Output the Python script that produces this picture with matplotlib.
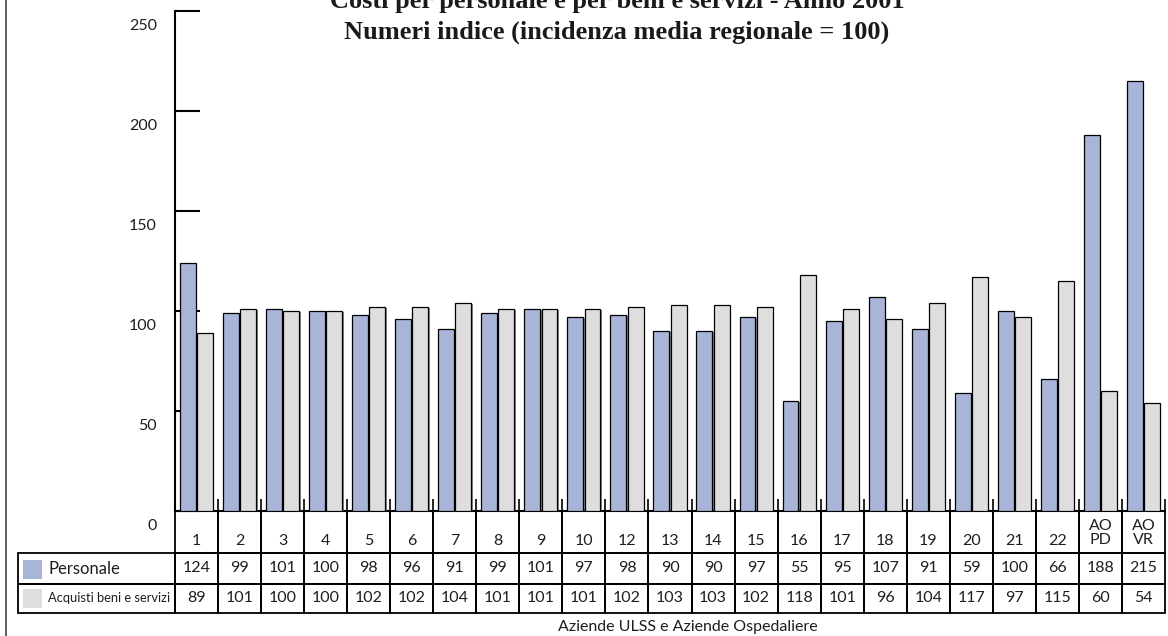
import numpy as np
import matplotlib
matplotlib.use("Agg")
import matplotlib.pyplot as plt
import matplotlib.transforms as mtransforms
import matplotlib.patheffects as pe
from matplotlib.patches import Rectangle
from matplotlib.lines import Line2D
from matplotlib.table import Table

# ---------------- data ----------------
categories = ['1', '2', '3', '4', '5', '6', '7', '8', '9', '10', '12', '13', '14',
              '15', '16', '17', '18', '19', '20', '21', '22', 'AO\nPD', 'AO\nVR']
personale = [124, 99, 101, 100, 98, 96, 91, 99, 101, 97, 98, 90, 90, 97, 55, 95,
             107, 91, 59, 100, 66, 188, 215]
acquisti = [89, 101, 100, 100, 102, 102, 104, 101, 101, 101, 102, 103, 103, 102,
            118, 101, 96, 104, 117, 97, 115, 60, 54]
series_names = ['Personale', 'Acquisti beni e servizi']
yticks = [0, 50, 100, 150, 200, 250]
title_lines = ['Costi per personale e per beni e servizi - Anno 2001',
               'Numeri indice (incidenza media regionale = 100)']
xlabel = 'Aziende ULSS e Aziende Ospedaliere'

# ---------------- style ----------------
C_PERS = '#A9B4D9'
C_ACQ = '#DEDEDE'
SANS = ['Lato', 'DejaVu Sans']
SERIF = ['Liberation Serif', 'DejaVu Serif']
TXT = '#1e1e1e'

W, H = 1168, 636
fig = plt.figure(figsize=(W / 100, H / 100), dpi=100)
fig.patch.set_facecolor('white')

AX_L, AX_R, AX_T, AX_B = 175, 1165, 11, 511
AXW, AXH = AX_R - AX_L, AX_B - AX_T
ax = fig.add_axes([AX_L / W, 1 - AX_B / H, AXW / W, AXH / H])
ax.set_facecolor('none')

n = len(categories)
x = np.arange(n)
bw = 0.37
shadow = [pe.SimplePatchShadow(offset=(1.0, -1.0), shadow_rgbFace='#555555', alpha=0.7),
          pe.Normal()]
bars1 = ax.bar(x - 0.2, personale, bw, color=C_PERS, edgecolor='black', linewidth=0.9,
               zorder=3)
bars2 = ax.bar(x + 0.2, acquisti, bw, color=C_ACQ, edgecolor='black', linewidth=0.9,
               zorder=3)
for b in list(bars1) + list(bars2):
    b.set_path_effects(shadow)

ax.set_xlim(-0.5, n - 0.5)
ax.set_ylim(0, 250)

for s in ['top', 'right']:
    ax.spines[s].set_visible(False)
ax.spines['left'].set_linewidth(1.5)
ax.spines['bottom'].set_linewidth(1.5)

# y ticks
ax.set_yticks(yticks)
ax.set_yticklabels([str(v) for v in yticks])
ax.tick_params(axis='y', direction='in', length=18, width=1.5, pad=13,
               labelsize=11.5, labelcolor=TXT)
offset = mtransforms.ScaledTranslation(0, -14 / 100, fig.dpi_scale_trans)
for t in ax.yaxis.get_major_ticks():
    t.label1.set_fontfamily(SANS)
    t.label1.set_transform(t.label1.get_transform() + offset)

# x ticks: boundaries between columns
ax.set_xticks([])
ax.set_xticks(np.arange(0.5, n, 1.0), minor=True)
ax.tick_params(axis='x', which='minor', direction='in', length=9, width=1.2,
               labelbottom=False)

# ---------------- data table ----------------
LBL_L = 18
row_h = [42, 31, 29]                      # pixel heights of table rows
TAB_H = sum(row_h)
tab = Table(ax, bbox=[0, -TAB_H / AXH, 1, TAB_H / AXH])
tab.auto_set_font_size(False)
col_w = 1.0 / n
lbl_w = (AX_L - LBL_L) / AXW
hdr_off = mtransforms.ScaledTranslation(0, -9 / 100, fig.dpi_scale_trans)
hdr_off2 = mtransforms.ScaledTranslation(0, -1 / 100, fig.dpi_scale_trans)
for j, c in enumerate(categories):
    cell = tab.add_cell(0, j, width=col_w, height=row_h[0] / AXH, text=c, loc='center',
                        edgecolor='black', facecolor='none')
    t = cell.get_text()
    t.set_fontsize(11.5)
    t.set_fontfamily(SANS)
    t.set_color(TXT)
    if '\n' in c:
        t.set_linespacing(0.95)
        t.set_transform(hdr_off2)
    else:
        t.set_transform(hdr_off)
    cell.set_linewidth(1.3)
for i, vals in enumerate([personale, acquisti]):
    lab = tab.add_cell(i + 1, -1, width=lbl_w, height=row_h[i + 1] / AXH,
                       text=series_names[i], loc='left', edgecolor='black',
                       facecolor='none')
    lab.PAD = (48 - LBL_L) / (AX_L - LBL_L)
    lt = lab.get_text()
    lt.set_fontfamily(SANS)
    lt.set_fontsize(12 if i == 0 else 9.3)
    lt.set_color(TXT)
    lab.set_linewidth(1.3)
    for j, v in enumerate(vals):
        cell = tab.add_cell(i + 1, j, width=col_w, height=row_h[i + 1] / AXH,
                            text=str(v), loc='center', edgecolor='black',
                            facecolor='none')
        t = cell.get_text()
        t.set_fontsize(11.5)
        t.set_fontfamily(SANS)
        t.set_color(TXT)
        cell.set_linewidth(1.3)
ax.add_table(tab)

# legend swatches in the row-label cells
def px2ax(xp, yp):
    return ((xp - AX_L) / AXW, (AX_B - yp) / AXH)

sw_y = [(560, 579), (589, 608)]
for (y0, y1), col in zip(sw_y, [C_PERS, C_ACQ]):
    xa, ya = px2ax(23, y1)
    xb, yb = px2ax(42, y0)
    ax.add_patch(Rectangle((xa, ya), xb - xa, yb - ya, transform=ax.transAxes,
                           facecolor=col, edgecolor='none', clip_on=False, zorder=5))

# ---------------- titles / labels ----------------
fig.text(617 / W, 1 - 8 / H, title_lines[0], ha='center', va='baseline',
         fontfamily=SERIF, fontweight='bold', fontsize=19, color='#1a1a1a')
fig.text(617 / W, 1 - 39 / H, title_lines[1], ha='center', va='baseline',
         fontfamily=SERIF, fontweight='bold', fontsize=19, color='#1a1a1a')
fig.text(688 / W, 1 - 631 / H, xlabel, ha='center', va='baseline',
         fontfamily=SANS, fontsize=11.5, color=TXT)

# outer frame line at left
fig.add_artist(Line2D([6 / W, 6 / W], [0, 1], transform=fig.transFigure,
                      color='#444444', linewidth=1.2))

fig.savefig('out.png', dpi=100, facecolor='white')
